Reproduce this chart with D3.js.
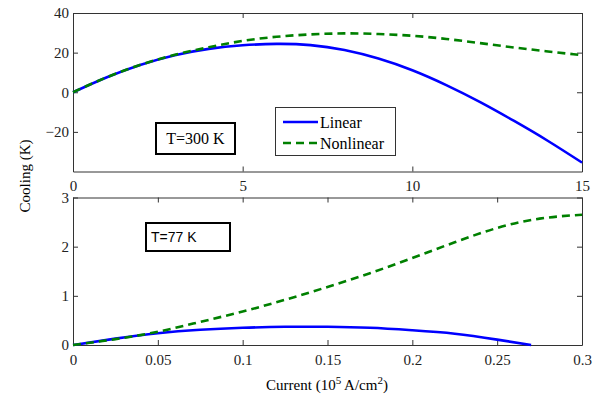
<!DOCTYPE html>
<html>
<head>
<meta charset="utf-8">
<script src="https://cdn.jsdelivr.net/npm/d3@7"></script>
<style>
  body { margin: 0; background: #fff; }
  svg { display: block; }
  .tick text { font-family: "Liberation Serif", "Times New Roman", serif; font-size: 15px; fill: #222; }
  .domain, .tick line { stroke: #333; }
</style>
</head>
<body>
<svg id="svg" width="605" height="403"></svg>
<script>
// top panel, T=300 K
var xTop = [0, 1, 2, 3, 4, 5, 6, 7, 8, 9, 10, 11, 12, 13, 14, 15];
var linearTop = [0, 7.6, 13.9, 18.7, 21.9, 23.7, 24.4, 23.8, 21.3, 17.0, 11.1, 3.6, -5.0, -14.5, -24.6, -35.5];
var nonlinearTop = [0, 7.6, 13.9, 18.9, 22.7, 25.9, 28.0, 29.2, 29.7, 29.4, 28.5, 26.9, 24.8, 22.6, 20.6, 18.7];

// bottom panel, T=77 K
var xBottom = [0, 0.025, 0.05, 0.075, 0.1, 0.125, 0.15, 0.175, 0.2, 0.225, 0.25, 0.275, 0.3];
var linearBottom = [0, 0.13, 0.24, 0.31, 0.35, 0.37, 0.37, 0.35, 0.30, 0.23, 0.11, null, null];
var xLinearEnd = 0.27;
var nonlinearBottom = [0, 0.12, 0.27, 0.47, 0.68, 0.92, 1.18, 1.46, 1.77, 2.09, 2.38, 2.57, 2.65];

var xTicksTop = [0, 5, 10, 15];
var yTicksTop = [-20, 0, 20, 40];
var xTicksBottom = [0, 0.05, 0.1, 0.15, 0.2, 0.25, 0.3];
var yTicksBottom = [0, 1, 2, 3];

var svg = d3.select("#svg");
var left = 73, right = 582;

function panel(top, bottom, xDomain, yDomain, xTicks, yTicks, xFmt, yFmt) {
	var x = d3.scaleLinear().domain(xDomain).range([left, right]);
	var y = d3.scaleLinear().domain(yDomain).range([bottom, top]);
	var g = svg.append("g");

	g.append("g")
		.attr("transform", "translate(0," + bottom + ")")
		.call(d3.axisBottom(x).tickValues(xTicks).tickFormat(xFmt).tickSizeInner(-5).tickSizeOuter(0).tickPadding(9));
	g.append("g")
		.attr("transform", "translate(0," + top + ")")
		.call(d3.axisTop(x).tickValues(xTicks).tickFormat("").tickSizeInner(-5).tickSizeOuter(0));
	g.append("g")
		.attr("transform", "translate(" + left + ",0)")
		.call(d3.axisLeft(y).tickValues(yTicks).tickFormat(yFmt).tickSizeInner(-5).tickSizeOuter(0).tickPadding(4));
	g.append("g")
		.attr("transform", "translate(" + right + ",0)")
		.call(d3.axisRight(y).tickValues(yTicks).tickFormat("").tickSizeInner(-5).tickSizeOuter(0));
	return {x: x, y: y, g: g};
}

var fmtMinus = function(d) { return d < 0 ? "\u2212" + Math.abs(d) : String(d); };

var p1 = panel(13, 171.5, [0, 15], [-40, 40], xTicksTop, yTicksTop, d3.format("d"), fmtMinus);
var p2 = panel(197.5, 345, [0, 0.3], [0, 3], xTicksBottom, yTicksBottom, function(d) { return String(d); }, d3.format("d"));

function drawLine(p, xs, ys, color, dash) {
	var pts = xs.map(function(d, i) { return [d, ys[i]]; }).filter(function(d) { return d[1] !== null; });
	var line = d3.line()
		.x(function(d) { return p.x(d[0]); })
		.y(function(d) { return p.y(d[1]); })
		.curve(d3.curveNatural);
	p.g.append("path")
		.datum(pts)
		.attr("fill", "none")
		.attr("stroke", color)
		.attr("stroke-width", 2.6)
		.attr("stroke-dasharray", dash)
		.attr("d", line);
}

drawLine(p1, xTop, linearTop, "#0000ff", null);
drawLine(p1, xTop, nonlinearTop, "#008000", "8,5");

var xLin = xBottom.filter(function(d, i) { return linearBottom[i] !== null; }).concat([xLinearEnd]);
var yLin = linearBottom.filter(function(d) { return d !== null; }).concat([0]);
drawLine(p2, xLin, yLin, "#0000ff", null);
drawLine(p2, xBottom, nonlinearBottom, "#008000", "8,5");

// annotation boxes
svg.append("rect").attr("x", 156).attr("y", 123).attr("width", 79).attr("height", 31)
	.attr("fill", "#fff").attr("stroke", "#000").attr("stroke-width", 2);
svg.append("text").attr("x", 195.5).attr("y", 144).attr("text-anchor", "middle")
	.style("font-family", "Liberation Serif, serif").style("font-size", "16px")
	.text("T=300 K");

svg.append("rect").attr("x", 146).attr("y", 223).attr("width", 84).attr("height", 28)
	.attr("fill", "#fff").attr("stroke", "#000").attr("stroke-width", 2);
svg.append("text").attr("x", 151).attr("y", 242)
	.style("font-family", "Liberation Sans, Arial, sans-serif").style("font-size", "14px")
	.text("T=77 K");

// legend
var legend = svg.append("g");
legend.append("rect").attr("x", 275.5).attr("y", 107.5).attr("width", 120).attr("height", 48)
	.attr("fill", "#fff").attr("stroke", "#333").attr("stroke-width", 1);
var legendItems = [["Linear", "#0000ff", null, 122], ["Nonlinear", "#008000", "8,5", 143]];
legendItems.forEach(function(d) {
	legend.append("line").attr("x1", 283).attr("x2", 318).attr("y1", d[3]).attr("y2", d[3])
		.attr("stroke", d[1]).attr("stroke-width", 2.6).attr("stroke-dasharray", d[2]);
	legend.append("text").attr("x", 320).attr("y", d[3] + 5.5)
		.style("font-family", "Liberation Serif, serif").style("font-size", "16px")
		.text(d[0]);
});

// axis labels
svg.append("text")
	.attr("transform", "translate(30,176) rotate(-90)")
	.attr("text-anchor", "middle")
	.style("font-family", "Liberation Serif, serif").style("font-size", "15px")
	.text("Cooling (K)");

var xl = svg.append("text")
	.attr("x", 327).attr("y", 390)
	.attr("text-anchor", "middle")
	.style("font-family", "Liberation Serif, serif").style("font-size", "15px");
xl.append("tspan").text("Current (10");
xl.append("tspan").attr("dy", -6).style("font-size", "11px").text("5");
xl.append("tspan").attr("dy", 6).text(" A/cm");
xl.append("tspan").attr("dy", -6).style("font-size", "11px").text("2");
xl.append("tspan").attr("dy", 6).text(")");
</script>
</body>
</html>
